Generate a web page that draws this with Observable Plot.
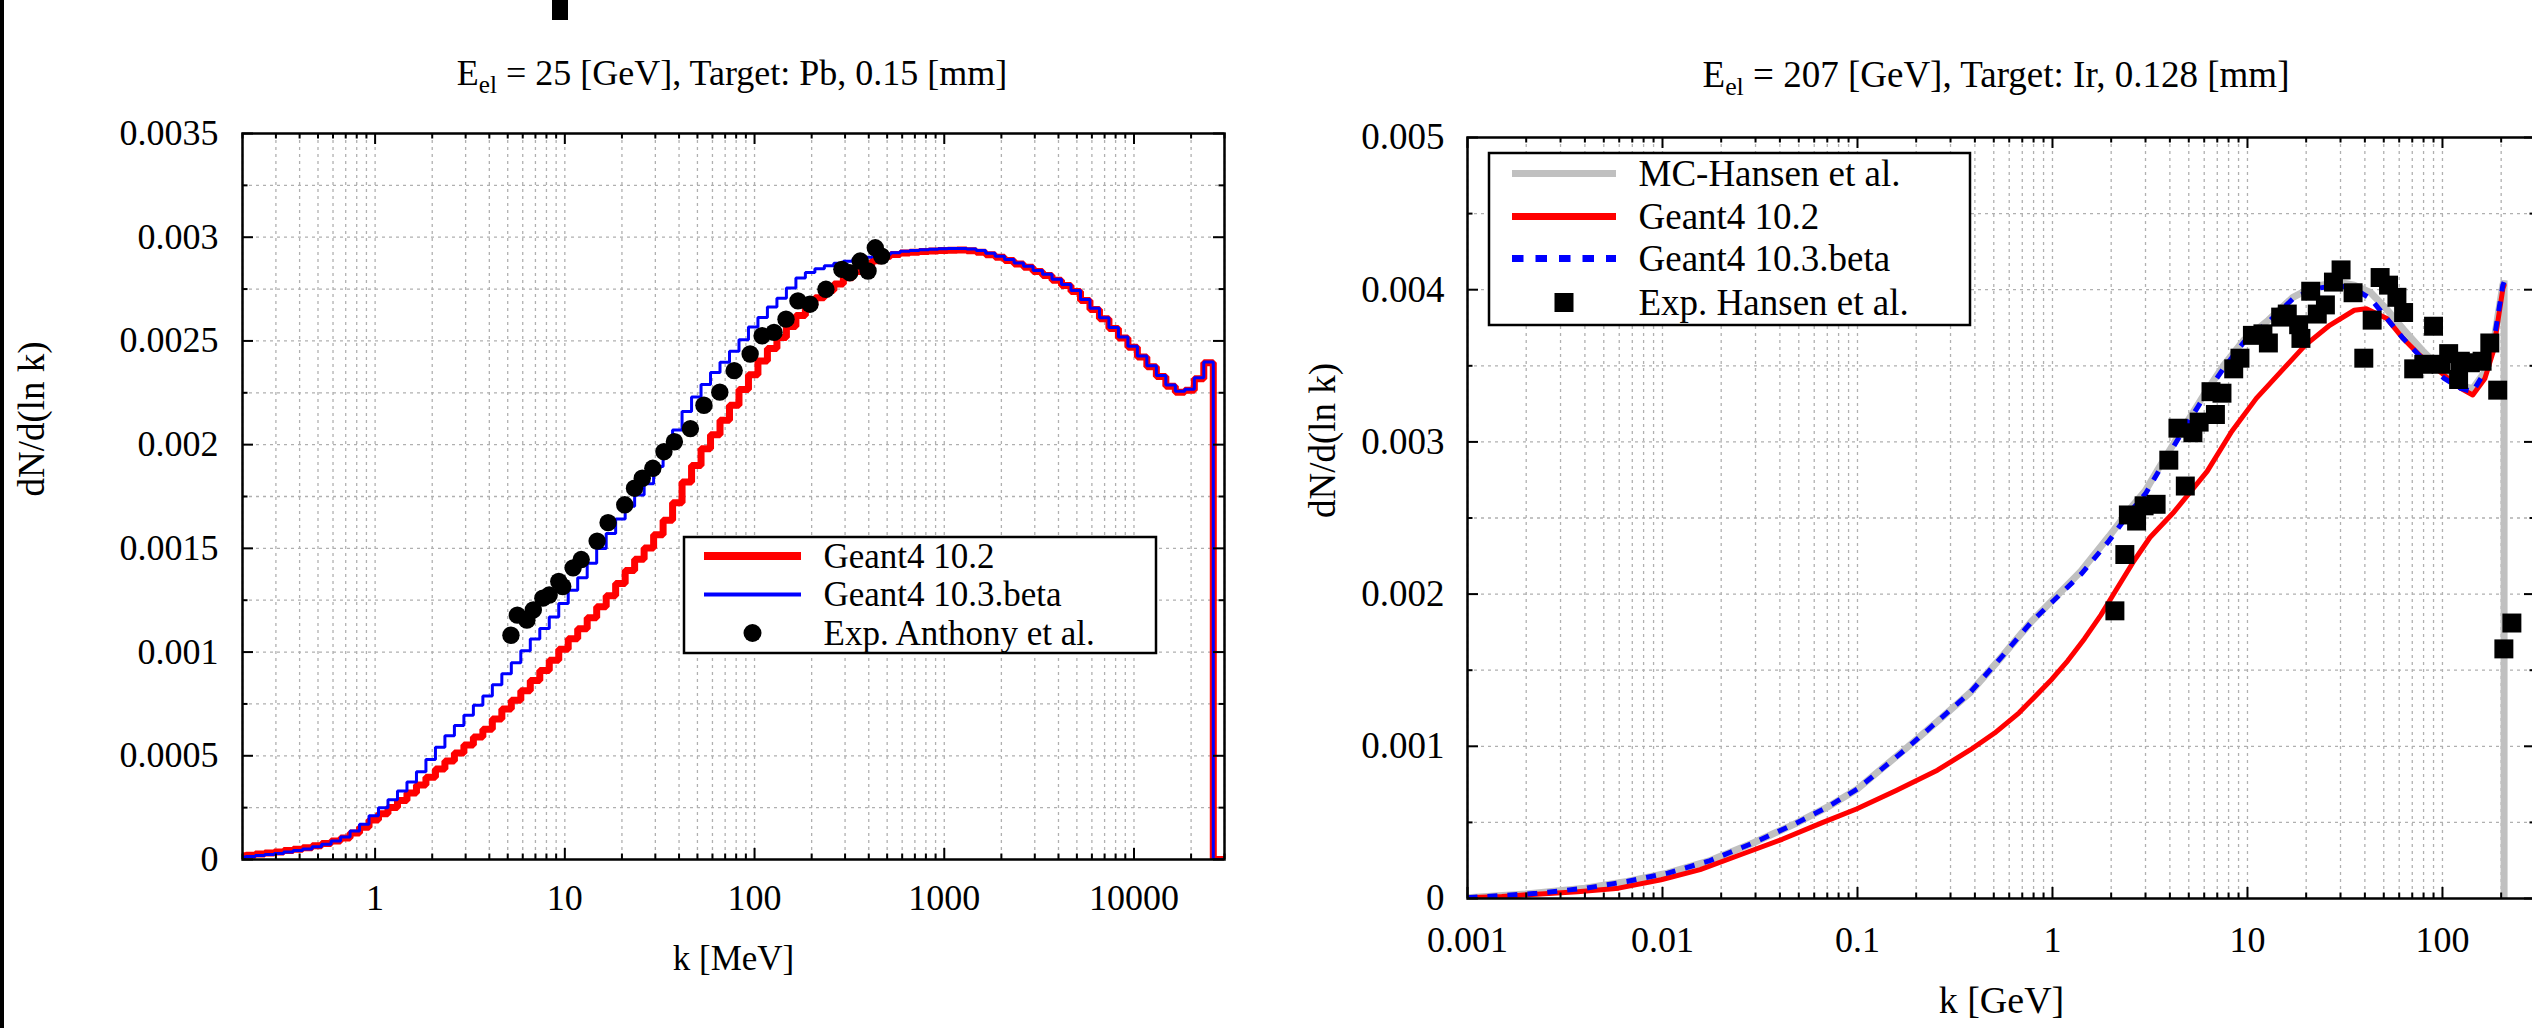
<!DOCTYPE html>
<html>
<head>
<meta charset="utf-8">
<script src="https://cdn.jsdelivr.net/npm/d3@7"></script>
<script src="https://cdn.jsdelivr.net/npm/@observablehq/plot@0.6"></script>
<style>
html, body { margin: 0; padding: 0; background: #fff; overflow: hidden; }
#page { position: relative; width: 2532px; height: 1028px; overflow: hidden; background: #fff;
  font-family: "Liberation Serif", "Times New Roman", serif; color: #000; }
.panel { position: absolute; top: 0; }
.panel svg { max-width: none !important; display: block; }
.title { position: absolute; white-space: nowrap; transform: translateX(-50%); line-height: 36px; }
.title sub { font-size: 0.7em; vertical-align: baseline; position: relative; top: 0.32em; line-height: 0; }
.legend { position: absolute; overflow: visible; }
</style>
</head>
<body>
<div id="page">
  <div style="position:absolute;left:0;top:0;width:4px;height:1028px;background:#000"></div>
  <div style="position:absolute;left:552px;top:0;width:16px;height:20px;background:#000"></div>
  <div id="left" class="panel" style="left:0;width:1250px;height:1028px"></div>
  <div id="right" class="panel" style="left:1250px;width:1290px;height:1028px"></div>
  <div class="title" style="left:732px;top:55px;font-size:36px">E<sub>el</sub> = 25 [GeV], Target: Pb, 0.15 [mm]</div>
  <div class="title" style="left:1996px;top:57px;font-size:37px">E<sub>el</sub> = 207 [GeV], Target: Ir, 0.128 [mm]</div>
  <svg id="legL" class="legend" style="left:683px;top:536px" width="474" height="118"></svg>
  <svg id="legR" class="legend" style="left:1488px;top:152px" width="483" height="174"></svg>
</div>
<script>
// ---------------- LEFT PANEL DATA (k in MeV) ----------------
// histogram bin left edges (20 bins per decade), last value is the right edge of the final bin
const binEdgesMeV = [
  0.1854, 0.2080, 0.2333, 0.2618, 0.2938, 0.3296, 0.3698, 0.4149, 0.4656, 0.5224, 0.5861, 0.6576, 0.7379, 0.8279, 0.9289,
  1.042, 1.169, 1.312, 1.472, 1.652, 1.853, 2.080, 2.333, 2.618, 2.938, 3.296, 3.698, 4.149, 4.656, 5.224, 5.861, 6.576, 7.379, 8.279, 9.289,
  10.42, 11.69, 13.12, 14.72, 16.52, 18.53, 20.80, 23.33, 26.18, 29.38, 32.96, 36.98, 41.49, 46.56, 52.24, 58.61, 65.76, 73.79, 82.79, 92.89,
  104.2, 116.9, 131.2, 147.2, 165.2, 185.3, 208.0, 233.3, 261.8, 293.8, 329.6, 369.8, 414.9, 465.6, 522.4, 586.1, 657.6, 737.9, 827.9, 928.9,
  1042, 1169, 1312, 1472, 1652, 1853, 2080, 2333, 2618, 2938, 3296, 3698, 4149, 4656, 5224, 5861, 6576, 7379, 8279, 9289,
  10420, 11690, 13120, 14720, 16520, 18530, 20800, 23330, 26180
];
const kMaxMeV = 30000;
const g4_102_left = [
  0.000018, 0.000021, 0.000026, 0.000031, 0.000036, 0.000043, 0.000049, 0.000057, 0.000066, 0.000077, 0.000089, 0.000104, 0.000128, 0.000155, 0.000190,
  0.000221, 0.000251, 0.000284, 0.000320, 0.000359, 0.000397, 0.000436, 0.000475, 0.000513, 0.000552, 0.000590, 0.000628, 0.000677, 0.000725, 0.000768, 0.000814, 0.000863, 0.000911, 0.000961, 0.001014,
  0.001064, 0.001112, 0.001165, 0.001219, 0.001272, 0.001331, 0.001393, 0.001447, 0.001502, 0.001565, 0.001635, 0.001720, 0.001820, 0.001900, 0.001980, 0.002048, 0.002117, 0.002190, 0.002266, 0.002337,
  0.002403, 0.002463, 0.002516, 0.002570, 0.002623, 0.002670, 0.002708, 0.002743, 0.002774, 0.002804, 0.002835, 0.002864, 0.002887, 0.002908, 0.002917, 0.002924, 0.002928, 0.002931, 0.002934, 0.002936,
  0.002937, 0.002938, 0.002935, 0.002928, 0.002915, 0.002903, 0.002888, 0.002871, 0.002855, 0.002835, 0.002816, 0.002792, 0.002767, 0.002738, 0.002695, 0.002652, 0.002607, 0.002560, 0.002514, 0.002469,
  0.002422, 0.002375, 0.002328, 0.002282, 0.002252, 0.002262, 0.002318, 0.002395
];
const g4_103_left = [
  0.000012, 0.000015, 0.000019, 0.000024, 0.000029, 0.000036, 0.000043, 0.000051, 0.000061, 0.000074, 0.000089, 0.000109, 0.000138, 0.000170, 0.000211,
  0.000249, 0.000288, 0.000330, 0.000374, 0.000423, 0.000482, 0.000541, 0.000597, 0.000646, 0.000696, 0.000744, 0.000788, 0.000842, 0.000896, 0.000948, 0.001006, 0.001063, 0.001114, 0.001169, 0.001234,
  0.001298, 0.001358, 0.001428, 0.001499, 0.001572, 0.001641, 0.001703, 0.001757, 0.001812, 0.001895, 0.001985, 0.002070, 0.002160, 0.002230, 0.002290, 0.002348, 0.002397, 0.002450, 0.002506, 0.002567,
  0.002613, 0.002663, 0.002706, 0.002755, 0.002803, 0.002830, 0.002848, 0.002863, 0.002874, 0.002884, 0.002895, 0.002904, 0.002907, 0.002918, 0.002925, 0.002932, 0.002936, 0.002939, 0.002942, 0.002944,
  0.002945, 0.002946, 0.002943, 0.002936, 0.002923, 0.002908, 0.002893, 0.002876, 0.002860, 0.002840, 0.002821, 0.002797, 0.002772, 0.002743, 0.002700, 0.002657, 0.002612, 0.002565, 0.002519, 0.002474,
  0.002427, 0.002380, 0.002333, 0.002287, 0.002257, 0.002267, 0.002323, 0.002399
];
const anthonyK = [5.20, 5.62, 6.31, 6.82, 7.66, 8.27, 9.29, 9.75, 11.06, 12.2, 14.8, 16.9, 20.7, 23.3, 25.6, 29.1, 33.3, 37.8, 45.9, 54.1,
  65.6, 78.1, 94.8, 109.6, 126.7, 146.5, 169.4, 195.9, 237.8, 288.6, 317.6, 360.5, 396.6, 432.9, 467.5];
const anthonyV = [0.001081, 0.001178, 0.001154, 0.001203, 0.00126, 0.001275, 0.001341, 0.001316, 0.001406, 0.001446, 0.001535, 0.001624, 0.00171, 0.00179, 0.001838, 0.001886, 0.001966, 0.002014, 0.002077, 0.00219,
  0.002253, 0.002357, 0.002437, 0.002525, 0.002541, 0.002605, 0.002693, 0.002677, 0.002749, 0.002845, 0.002829, 0.002885, 0.002837, 0.002949, 0.002909];
const xTickLabelsL = [1, 10, 100, 1000, 10000];
const yTickLabelsL = [0, 0.0005, 0.001, 0.0015, 0.002, 0.0025, 0.003, 0.0035];

// ---------------- RIGHT PANEL DATA (k in GeV) ----------------
const mcHansenK = [0.001, 0.002, 0.004, 0.0066, 0.0106, 0.0172, 0.0293, 0.0475, 0.07, 0.1, 0.175, 0.257, 0.378, 0.556, 0.78, 1.0, 1.4, 1.95, 2.5, 3.0,
  3.48, 4.43, 5.92, 7.53, 9.6, 12.8, 17.1, 21.8, 29.1, 35.3, 42.9, 51.9, 63, 80.2, 102, 124, 143, 165, 182, 204, 207, 207];
const mcHansenV = [0.000005, 0.00003, 0.000068, 0.000112, 0.000167, 0.000245, 0.000366, 0.000489, 0.0006, 0.00072, 0.00098, 0.001164, 0.001353, 0.001596, 0.00182, 0.00196, 0.00215, 0.00238, 0.00256, 0.00268,
  0.00282, 0.00304, 0.0033, 0.0035, 0.00367, 0.0038, 0.00395, 0.00402, 0.00405, 0.00403, 0.00398, 0.00387, 0.00374, 0.00359, 0.00346, 0.00337, 0.00335, 0.00346, 0.00363, 0.00403, 0.00406, 0];
const g4_102_rightK = [0.001, 0.0015, 0.00187, 0.00367, 0.00596, 0.00984, 0.0156, 0.0253, 0.0411, 0.0665, 0.0988, 0.158, 0.257, 0.378, 0.505, 0.674, 0.993, 1.2, 1.46, 1.77,
  2.15, 2.61, 3.16, 4.2, 6.21, 8.3, 11.1, 14.8, 19.8, 26.4, 35.3, 40.7, 51.9, 62.9, 76.4, 102, 124, 143, 165, 182, 204, 207];
const g4_102_rightV = [0.000005, 0.000013, 0.000022, 0.000045, 0.000068, 0.000123, 0.00019, 0.000289, 0.000389, 0.0005, 0.000588, 0.00071, 0.000843, 0.000976, 0.001087, 0.00122, 0.001441, 0.001563, 0.001707, 0.001862,
  0.00204, 0.002216, 0.002372, 0.00254, 0.002806, 0.003068, 0.003286, 0.00346, 0.003636, 0.003766, 0.003865, 0.003875, 0.00381, 0.003679, 0.00357, 0.003439, 0.003352, 0.003308, 0.003417, 0.003592, 0.004006, 0.00403];
const g4_103_rightK = [0.001, 0.00227, 0.00405, 0.00656, 0.01064, 0.0172, 0.0293, 0.0475, 0.0698, 0.1, 0.175, 0.257, 0.378, 0.556, 0.78, 1.0, 1.4, 1.95, 2.5, 3.0,
  3.48, 4.43, 5.92, 7.53, 9.6, 12.8, 17.1, 21.8, 29.1, 35.3, 42.9, 51.9, 63, 80.2, 102, 124, 143, 165, 182, 204, 207];
const g4_103_rightV = [0.000005, 0.000034, 0.000068, 0.000112, 0.000167, 0.000245, 0.000366, 0.000489, 0.000599, 0.00072, 0.000976, 0.001164, 0.001353, 0.001596, 0.001818, 0.00195, 0.00213, 0.00235, 0.00254, 0.00266,
  0.0028, 0.003024, 0.003286, 0.003482, 0.003657, 0.003788, 0.00394, 0.004006, 0.004028, 0.004006, 0.00394, 0.00381, 0.003679, 0.003537, 0.003417, 0.003352, 0.00333, 0.00346, 0.003636, 0.00403, 0.00405];
const hansenExpK = [2.09, 2.35, 2.45, 2.70, 2.95, 3.40, 3.95, 4.40, 4.80, 5.25, 5.65, 6.50, 6.85, 7.40, 8.50, 9.15, 10.6, 12.0, 12.8, 14.8,
  16.0, 18.3, 18.8, 21.1, 22.8, 25.1, 27.6, 30.2, 34.8, 39.5, 43.6, 47.9, 52.9, 58.4, 63.2, 71.2, 80.2, 90.0, 98.4, 107.6,
  121, 123.5, 139, 159.7, 174.9, 192, 206.5, 227];
const hansenExpV = [0.00189, 0.00226, 0.00252, 0.00248, 0.00258, 0.00259, 0.00288, 0.00309, 0.00271, 0.00306, 0.00313, 0.00333, 0.00318, 0.00332, 0.00348, 0.00355, 0.00370, 0.00371, 0.00365, 0.00382,
  0.00384, 0.00377, 0.00368, 0.00399, 0.00384, 0.00390, 0.00405, 0.00413, 0.00398, 0.00355, 0.00380, 0.00408, 0.00403, 0.00395, 0.00385, 0.00348, 0.00351, 0.00376, 0.00351, 0.00358,
  0.00341, 0.00353, 0.00352, 0.00353, 0.00365, 0.00334, 0.00164, 0.00181];
const xTickLabelsR = [0.001, 0.01, 0.1, 1, 10, 100];
const yTickLabelsR = [0, 0.001, 0.002, 0.003, 0.004, 0.005];

// ---------------- helpers ----------------
const FONT = "Liberation Serif, Times New Roman, serif";
const gridStyle = {stroke: "#b0b0b0", strokeDasharray: "3,4", strokeWidth: 1.3};

function histogram(edges, values, kMax) {
  const rows = values.map((v, i) => ({k: edges[i], v}));
  rows.push({k: edges[edges.length - 1], v: 0});
  rows.push({k: kMax, v: 0});
  return rows;
}
const pairs = (ks, vs) => ks.map((k, i) => ({k, v: vs[i]}));

function frameTicks({xDomain, yDomain, yMinorStep, xMajor, yMajor, FW, FH}) {
  const xAll = d3.scaleLog().domain(xDomain).ticks();
  const xMinor = xAll.filter(t => !xMajor.some(m => Math.abs(m - t) / m < 1e-9));
  const yAll = d3.range(0, Math.round((yDomain[1] - yDomain[0]) / yMinorStep) + 1).map(i => yDomain[0] + i * yMinorStep);
  const yMinor = yAll.filter(t => !yMajor.some(m => Math.abs(m - t) < yMinorStep / 10));
  const tk = {stroke: "black", strokeWidth: 2};
  const MAJ = 11, MIN = 5.5;
  return {
    grid: [
      Plot.ruleX(xAll, {x: d => d, ...gridStyle}),
      Plot.ruleY(yAll.slice(1, -1), {y: d => d, ...gridStyle})
    ],
    ticks: [
      Plot.tickX(xMajor, {x: d => d, insetTop: FH - MAJ, ...tk}),
      Plot.tickX(xMajor, {x: d => d, insetBottom: FH - MAJ, ...tk}),
      Plot.tickX(xMinor, {x: d => d, insetTop: FH - MIN, ...tk}),
      Plot.tickX(xMinor, {x: d => d, insetBottom: FH - MIN, ...tk}),
      Plot.tickY(yMajor, {y: d => d, insetRight: FW - MAJ, ...tk}),
      Plot.tickY(yMajor, {y: d => d, insetLeft: FW - MAJ, ...tk}),
      Plot.tickY(yMinor, {y: d => d, insetRight: FW - MIN, ...tk}),
      Plot.tickY(yMinor, {y: d => d, insetLeft: FW - MIN, ...tk})
    ]
  };
}

// ---------------- LEFT PLOT ----------------
{
  const W = 1250, H = 1028, mL = 242, mR = 26, mT = 133, mB = 169;
  const FW = W - mL - mR, FH = H - mT - mB;
  const xDomain = [0.2, kMaxMeV], yDomain = [0, 0.0035];
  const t = frameTicks({xDomain, yDomain, yMinorStep: 0.00025, xMajor: xTickLabelsL, yMajor: yTickLabelsL, FW, FH});
  const plot = Plot.plot({
    width: W, height: H, marginLeft: mL, marginRight: mR, marginTop: mT, marginBottom: mB,
    x: {type: "log", domain: xDomain},
    y: {domain: yDomain},
    style: {fontFamily: FONT, fontSize: "36px", color: "black", background: "transparent", maxWidth: "none"},
    marks: [
      ...t.grid,
      Plot.line(histogram(binEdgesMeV, g4_102_left, kMaxMeV), {x: "k", y: "v", curve: "step-after", stroke: "#ff0000", strokeWidth: 7, strokeLinejoin: "miter", strokeLinecap: "butt", clip: true}),
      Plot.line(histogram(binEdgesMeV, g4_103_left, kMaxMeV), {x: "k", y: "v", curve: "step-after", stroke: "#0000ff", strokeWidth: 3, strokeLinejoin: "miter", strokeLinecap: "butt", clip: true}),
      Plot.dot(pairs(anthonyK, anthonyV), {x: "k", y: "v", r: 8.7, fill: "black", stroke: "none"}),
      ...t.ticks,
      Plot.frame({stroke: "black", strokeWidth: 2.5}),
      Plot.axisX({ticks: xTickLabelsL, tickSize: 0, tickPadding: 25, tickFormat: d => String(d), fontSize: 36, label: null}),
      Plot.axisY({ticks: yTickLabelsL, tickSize: 0, tickPadding: 24, tickFormat: d => String(d), fontSize: 36, label: null}),
      Plot.text(["k [MeV]"], {text: d => d, frameAnchor: "bottom", dy: 99, lineAnchor: "middle", fontSize: 35}),
      Plot.text(["dN/d(ln k)"], {text: d => d, frameAnchor: "left", rotate: -90, dx: -210, lineAnchor: "middle", fontSize: 37})
    ]
  });
  document.getElementById("left").appendChild(plot);
}

// ---------------- RIGHT PLOT ----------------
{
  const W = 1290, H = 1028, mL = 217, mR = 5, mT = 137, mB = 130;
  const FW = W - mL - mR, FH = H - mT - mB;
  const xDomain = [0.001, 300], yDomain = [0, 0.005];
  const t = frameTicks({xDomain, yDomain, yMinorStep: 0.0005, xMajor: xTickLabelsR, yMajor: yTickLabelsR, FW, FH});
  const plot = Plot.plot({
    width: W, height: H, marginLeft: mL, marginRight: mR, marginTop: mT, marginBottom: mB,
    x: {type: "log", domain: xDomain},
    y: {domain: yDomain},
    style: {fontFamily: FONT, fontSize: "36px", color: "black", background: "transparent", maxWidth: "none"},
    marks: [
      ...t.grid,
      Plot.line(pairs(mcHansenK, mcHansenV), {x: "k", y: "v", stroke: "#c0c0c0", strokeWidth: 7, strokeLinejoin: "miter", strokeLinecap: "butt", clip: true}),
      Plot.line(pairs(g4_102_rightK, g4_102_rightV), {x: "k", y: "v", stroke: "#ff0000", strokeWidth: 5, clip: true}),
      Plot.line(pairs(g4_103_rightK, g4_103_rightV), {x: "k", y: "v", stroke: "#0000ff", strokeWidth: 5, strokeDasharray: "10,10", strokeLinecap: "butt", clip: true}),
      Plot.dot(pairs(hansenExpK, hansenExpV), {x: "k", y: "v", symbol: "square", r: 10.7, fill: "black", stroke: "none"}),
      ...t.ticks,
      Plot.frame({stroke: "black", strokeWidth: 2.5}),
      Plot.axisX({ticks: xTickLabelsR, tickSize: 0, tickPadding: 28, tickFormat: d => String(d), fontSize: 36, label: null}),
      Plot.axisY({ticks: yTickLabelsR, tickSize: 0, tickPadding: 23, tickFormat: d => String(d), fontSize: 37, label: null}),
      Plot.text(["k [GeV]"], {text: d => d, frameAnchor: "bottom", dy: 102, lineAnchor: "middle", fontSize: 38}),
      Plot.text(["dN/d(ln k)"], {text: d => d, frameAnchor: "left", rotate: -90, dx: -144, lineAnchor: "middle", fontSize: 37})
    ]
  });
  document.getElementById("right").appendChild(plot);
}

// ---------------- LEGENDS ----------------
function drawLegend(id, w, h, entries, sx0, sx1, tx, fontSize) {
  const svg = d3.select("#" + id);
  svg.append("rect").attr("x", 1).attr("y", 1).attr("width", w - 2).attr("height", h - 2)
    .attr("fill", "white").attr("stroke", "black").attr("stroke-width", 2.5);
  entries.forEach(e => {
    const cy = e.cy;
    if (e.type === "line") {
      svg.append("line").attr("x1", sx0).attr("x2", sx1).attr("y1", cy).attr("y2", cy)
        .attr("stroke", e.color).attr("stroke-width", e.width).attr("stroke-dasharray", e.dash || null);
    } else if (e.type === "circle") {
      svg.append("circle").attr("cx", (sx0 + sx1) / 2).attr("cy", cy).attr("r", e.size / 2).attr("fill", "black");
    } else if (e.type === "square") {
      svg.append("rect").attr("x", (sx0 + sx1) / 2 - e.size / 2).attr("y", cy - e.size / 2)
        .attr("width", e.size).attr("height", e.size).attr("fill", "black");
    }
    svg.append("text").attr("x", tx).attr("y", cy).attr("dy", "0.34em")
      .attr("font-family", FONT).attr("font-size", fontSize).attr("fill", "black").text(e.label);
  });
}
drawLegend("legL", 474, 118, [
  {label: "Geant4 10.2", type: "line", color: "#ff0000", width: 8, cy: 20},
  {label: "Geant4 10.3.beta", type: "line", color: "#0000ff", width: 4, cy: 58.5},
  {label: "Exp. Anthony et al.", type: "circle", size: 18, cy: 97}
], 21, 118, 140.5, 35);
drawLegend("legR", 483, 174, [
  {label: "MC-Hansen et al.", type: "line", color: "#c0c0c0", width: 7, cy: 21.5},
  {label: "Geant4 10.2", type: "line", color: "#ff0000", width: 7, cy: 64.5},
  {label: "Geant4 10.3.beta", type: "line", color: "#0000ff", width: 7, dash: "11.5,12", cy: 106.5},
  {label: "Exp. Hansen et al.", type: "square", size: 19, cy: 150.5}
], 24, 128, 150.5, 37);
</script>
</body>
</html>
